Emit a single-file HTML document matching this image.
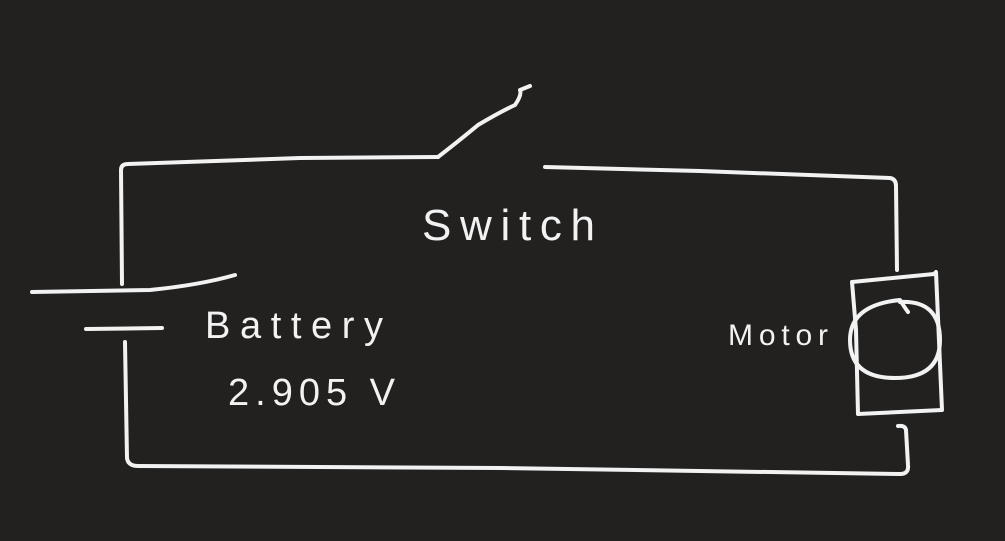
<!DOCTYPE html>
<html><head><meta charset="utf-8"><style>
html,body{margin:0;padding:0;background:#222120;}
svg{display:block}
text{font-family:"Liberation Sans",sans-serif;fill:#f2f2f2;}
</style></head><body>
<svg width="1005" height="541" viewBox="0 0 1005 541">
<rect width="1005" height="541" fill="#222120"/>
<g fill="none" stroke="#f2f2f2" stroke-width="4" stroke-linecap="round" stroke-linejoin="round">
<path d="M122 284 L121 170 Q121 164 128 164 L300 158 L438 157"/>
<path d="M438 157 Q460 140 478 125 Q500 112 515 105 Q522 95 520 90 L530 86"/>
<path d="M545 167 L700 171 L890 178 Q896 179 896 186 L897 270"/>
<path d="M32 292 L150 290 Q200 285 235 275"/>
<path d="M86 329 L162 328"/>
<path d="M125 342 L127 458 Q128 466 138 466 L500 468 L900 474 Q909 474 908 465 L906 430 Q905 425 898 426"/>
<path d="M852 282 L934 274 L936 272 L942 410 L858 414 L856 330 L852 282"/>
<path d="M900 302 Q940 300 940 340 Q940 378 895 378 Q850 378 850 340 Q850 305 900 300 Q905 308 908 312"/>
</g>
<text x="422" y="240" font-size="44" textLength="173" lengthAdjust="spacing">Switch</text>
<text x="205" y="338" font-size="38" textLength="178" lengthAdjust="spacing">Battery</text>
<text x="228" y="405" font-size="38" textLength="167" lengthAdjust="spacing">2.905 V</text>
<text x="728" y="345" font-size="30" textLength="100" lengthAdjust="spacing">Motor</text>
</svg>
</body></html>
